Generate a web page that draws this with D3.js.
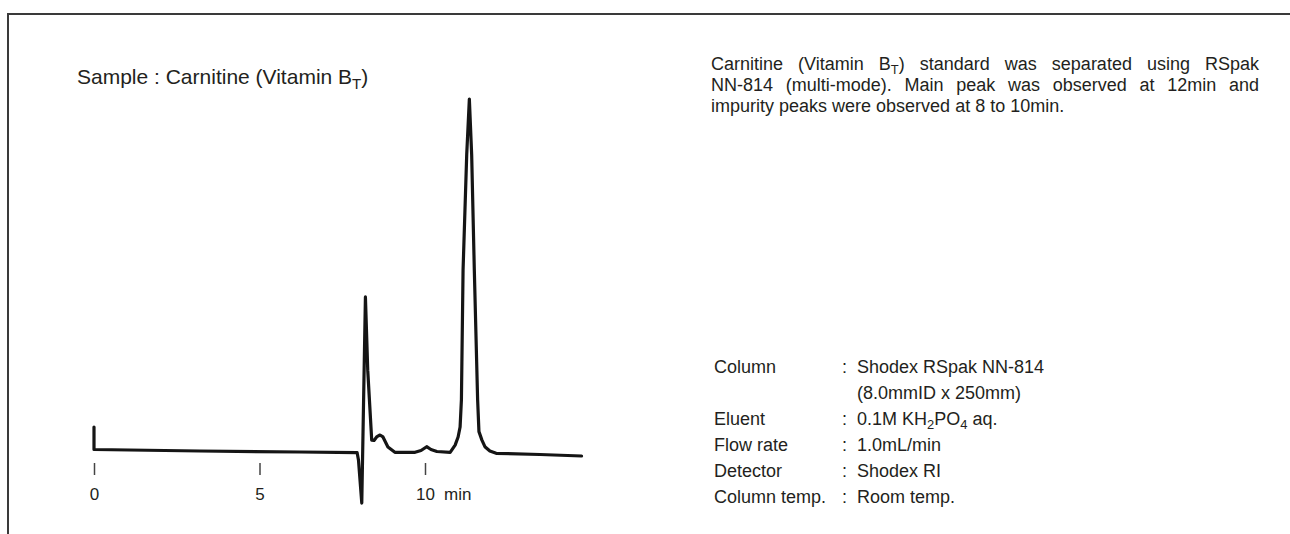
<!DOCTYPE html>
<html>
<head>
<meta charset="utf-8">
<script src="https://cdn.jsdelivr.net/npm/d3@7"></script>
<style>
  html, body { margin: 0; padding: 0; background: #fff; }
  svg { display: block; }
  text { font-family: "Liberation Sans", Arial, Helvetica, sans-serif; fill: #231f20; }
</style>
</head>
<body>
<svg id="chart" width="1290" height="534"></svg>
<script>
// ---------- data ----------
const traceTime   = [0, 0, 3.2, 6.22, 7.95, 7.99, 8.09, 8.20, 8.27, 8.39, 8.46, 8.55, 8.64, 8.73, 8.88, 9.09, 9.70, 9.88, 10.05, 10.18, 10.36, 10.76, 10.91, 11.00, 11.06, 11.10, 11.15, 11.26, 11.34, 11.41, 11.49, 11.59, 11.63, 11.72, 11.81, 11.96, 12.15, 13.47, 14.73];
const traceSignal = [7.2, 0.85, 0.42, 0.14, -0.06, -2.1, -14.3, 44.0, 23.3, 3.5, 3.4, 4.5, 4.95, 4.4, 1.56, 0.06, 0.06, 0.57, 1.64, 0.85, 0.28, 0.06, 2.1, 4.4, 7.2, 14.9, 51.6, 84.2, 100, 84.2, 51.6, 14.9, 5.9, 3.5, 1.64, 0.42, -0.23, -0.57, -0.99];
const tickValues = [0, 5, 10];
const tickLabels = ["0", "5", "10"];
const axisUnit = "min";
const sampleTitle = "Sample : Carnitine (Vitamin B_{T})";
const descriptionLines = [
  "Carnitine (Vitamin B_{T}) standard was separated using RSpak",
  "NN-814 (multi-mode). Main peak was observed at 12min and",
  "impurity peaks were observed at 8 to 10min."
];
const descriptionJustified = [true, true, false];
const paramLabels = ["Column", "", "Eluent", "Flow rate", "Detector", "Column temp."];
const paramValues = ["Shodex RSpak NN-814", "(8.0mmID x 250mm)", "0.1M KH_{2}PO_{4} aq.", "1.0mL/min", "Shodex RI", "Room temp."];

// ---------- setup ----------
const svg = d3.select("#chart");
const x = d3.scaleLinear().domain([0, 10]).range([94, 425]);
const y = d3.scaleLinear().domain([0, 100]).range([452.5, 99]);

// frame
svg.append("path")
  .attr("d", "M8,534 V14 H1290")
  .attr("fill", "none").attr("stroke", "#3a3a3a").attr("stroke-width", 2);

// helper: write string with _{sub} markup into a text element
function richText(sel, str, fontSize) {
  const parts = str.split(/(_\{[^}]*\})/).filter(s => s.length);
  let shifted = false;
  parts.forEach(p => {
    const m = p.match(/^_\{([^}]*)\}$/);
    if (m) {
      sel.append("tspan").attr("dy", fontSize * 0.22).attr("font-size", fontSize * 0.72).text(m[1]);
      shifted = true;
    } else {
      const t = sel.append("tspan").text(p);
      if (shifted) { t.attr("dy", -fontSize * 0.22); shifted = false; }
    }
  });
}

// title
const title = svg.append("text").attr("x", 77).attr("y", 84).attr("font-size", 21);
richText(title, sampleTitle, 21);

// trace
const line = d3.line().x((d, i) => x(traceTime[i])).y(d => y(d)).curve(d3.curveLinear);
svg.append("path")
  .datum(traceSignal)
  .attr("d", line)
  .attr("fill", "none")
  .attr("stroke", "#151515")
  .attr("stroke-width", 3.2)
  .attr("stroke-linejoin", "round")
  .attr("stroke-linecap", "round");

// axis (ticks + labels, no domain line)
const axis = d3.axisBottom(x)
  .tickValues(tickValues)
  .tickFormat((d, i) => tickLabels[i])
  .tickSize(12)
  .tickPadding(13);
const gAxis = svg.append("g").attr("transform", "translate(0,463)").call(axis);
gAxis.select(".domain").remove();
gAxis.selectAll(".tick line").attr("stroke", "#444").attr("stroke-width", 1.5);
gAxis.selectAll(".tick text")
  .attr("font-size", 17)
  .attr("font-family", "Liberation Sans, Arial, sans-serif")
  .attr("fill", "#231f20");
svg.append("text").attr("x", x(10) + 19).attr("y", 500).attr("font-size", 17).text(axisUnit);

// description paragraph (justified)
const pLeft = 711, pRight = 1259, pFont = 18;
descriptionLines.forEach((ln, li) => {
  const yy = 70 + li * 21;
  const words = ln.split(" ");
  const nodes = words.map(w => {
    const t = svg.append("text").attr("y", yy).attr("font-size", pFont);
    richText(t, w, pFont);
    return t;
  });
  const widths = nodes.map(n => n.node().getComputedTextLength());
  const total = d3.sum(widths);
  let gap;
  if (descriptionJustified[li]) gap = (pRight - pLeft - total) / (words.length - 1);
  else {
    const sp = svg.append("text").attr("font-size", pFont).text("a a");
    const sa = svg.append("text").attr("font-size", pFont).text("aa");
    gap = sp.node().getComputedTextLength() - sa.node().getComputedTextLength();
    sp.remove(); sa.remove();
  }
  let cx = pLeft;
  nodes.forEach((n, i) => { n.attr("x", cx); cx += widths[i] + gap; });
});

// parameters
const prmFont = 18;
paramLabels.forEach((lab, i) => {
  const yy = 373 + i * 26;
  if (lab) {
    svg.append("text").attr("x", 714).attr("y", yy).attr("font-size", prmFont).text(lab);
    svg.append("text").attr("x", 842).attr("y", yy).attr("font-size", prmFont).text(":");
  }
  const t = svg.append("text").attr("x", 857).attr("y", yy).attr("font-size", prmFont);
  richText(t, paramValues[i], prmFont);
});
</script>
</body>
</html>
